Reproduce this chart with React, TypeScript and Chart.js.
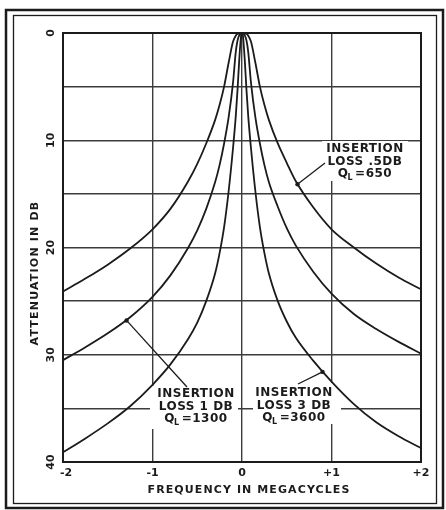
import React, { useEffect, useRef } from 'react';
import { Chart, registerables } from 'chart.js';

Chart.register(...registerables);

// Frequency offset from resonance, in megacycles
const FREQ_MC = [-2, -1.75, -1.5, -1.25, -1, -0.8, -0.6, -0.5, -0.4, -0.3, -0.25, -0.2, -0.15, -0.1, -0.07, -0.05, -0.03, -0.01, 0, 0.01, 0.03, 0.05, 0.07, 0.1, 0.15, 0.2, 0.25, 0.3, 0.4, 0.5, 0.6, 0.8, 1, 1.25, 1.5, 1.75, 2];

// Attenuation in dB, insertion loss .5 dB, QL = 650
const ATTEN_Q650 = [24.1, 22.9, 21.6, 20.1, 18.3, 16.4, 13.8, 12.2, 10.3, 8.1, 6.7, 5.0, 2.8, 0.8, 0.25, 0.08, 0.02, 0, 0, 0, 0.02, 0.08, 0.25, 0.8, 2.8, 5.0, 6.7, 8.1, 10.3, 12.1, 13.8, 16.3, 18.3, 20.0, 21.5, 22.8, 23.9];
// Attenuation in dB, insertion loss 1 dB, QL = 1300
const ATTEN_Q1300 = [30.5, 29.3, 28.0, 26.5, 24.6, 22.6, 20.0, 18.4, 16.4, 13.9, 12.3, 10.3, 7.9, 4.6, 1.8, 0.7, 0.2, 0.02, 0, 0.02, 0.2, 0.7, 1.8, 4.6, 7.9, 10.3, 12.3, 13.9, 16.2, 18.2, 19.8, 22.3, 24.3, 26.2, 27.6, 28.8, 29.9];
// Attenuation in dB, insertion loss 3 dB, QL = 3600
const ATTEN_Q3600 = [39.1, 37.8, 36.4, 34.8, 32.8, 30.9, 28.5, 27.0, 25.0, 22.4, 20.5, 18.1, 14.8, 10.7, 7.8, 5.3, 2.4, 0.25, 0, 0.25, 2.4, 5.3, 7.8, 10.7, 14.8, 18.1, 20.5, 22.4, 25.0, 26.9, 28.4, 30.6, 32.5, 34.6, 36.3, 37.6, 38.7];

const X_TICKS = [-2, -1, 0, 1, 2];
const X_TICK_LABELS = ['-2', '-1', '0', '+1', '+2'];
const Y_TICKS = [0, 10, 20, 30, 40];
const Y_TICK_LABELS = ['0', '10', '20', '30', '40'];
const X_TITLE = 'FREQUENCY IN MEGACYCLES';
const Y_TITLE = 'ATTENUATION IN DB';

const NOTE_LINES_1 = ['INSERTION', 'LOSS .5DB'];
const NOTE_LINES_2 = ['INSERTION', 'LOSS 1 DB'];
const NOTE_LINES_3 = ['INSERTION', 'LOSS 3 DB'];
const NOTE_Q = ['=650', '=1300', '=3600'];

const INK = '#1b1b1b';
const GRID = '#3c3c3c';
const FONT = '"DejaVu Sans", "Liberation Sans", sans-serif';

type Note = {
  lines: string[];
  q: string;
  cx: number;
  y: number;
  box: [number, number, number, number];
  tail: [number, number];
  tip: [number, number]; // data coords (MHz, dB), on the curve
};

const NOTES: Note[] = [
  { lines: NOTE_LINES_1, q: NOTE_Q[0], cx: 365, y: 149, box: [322, 141, 86, 40], tail: [325, 163], tip: [0.62, 14.1] },
  { lines: NOTE_LINES_2, q: NOTE_Q[1], cx: 196, y: 394, box: [150, 386, 88, 43], tail: [187, 387], tip: [-1.29, 26.8] },
  { lines: NOTE_LINES_3, q: NOTE_Q[2], cx: 294, y: 393, box: [253, 383, 88, 41], tail: [298, 384], tip: [0.9, 31.6] },
];

function spaced(ctx: CanvasRenderingContext2D, px: number) {
  (ctx as any).letterSpacing = px + 'px';
}

const paperPlugin = {
  id: 'paper',
  beforeDraw(chart: any) {
    const { ctx, width, height } = chart;
    ctx.save();
    ctx.fillStyle = '#ffffff';
    ctx.fillRect(0, 0, width, height);
    ctx.strokeStyle = INK;
    ctx.lineWidth = 2.5;
    ctx.strokeRect(6, 10, 437, 498);
    ctx.lineWidth = 1.3;
    ctx.strokeRect(13.5, 15.5, 423, 488);
    ctx.restore();
  },
  beforeDatasetsDraw(chart: any) {
    const { ctx, chartArea: a } = chart;
    ctx.save();
    // white label boxes that interrupt the grid
    ctx.fillStyle = '#ffffff';
    NOTES.forEach((n) => ctx.fillRect(n.box[0], n.box[1], n.box[2], n.box[3]));
    // plot frame
    ctx.strokeStyle = INK;
    ctx.lineWidth = 2;
    ctx.strokeRect(a.left, a.top, a.right - a.left, a.bottom - a.top);
    ctx.restore();
  },
  afterDatasetsDraw(chart: any) {
    const { ctx } = chart;
    const xs = chart.scales.x;
    const ys = chart.scales.y;
    ctx.save();
    ctx.fillStyle = INK;
    ctx.strokeStyle = INK;

    // notes
    NOTES.forEach((n) => {
      ctx.font = 'bold 12px ' + FONT;
      spaced(ctx, 0.5);
      ctx.textAlign = 'center';
      ctx.textBaseline = 'middle';
      n.lines.forEach((t, i) => ctx.fillText(t, n.cx, n.y + i * 12.5));
      // Q with subscript L
      const y3 = n.y + 2 * 12.5;
      ctx.textAlign = 'left';
      const wQ = ctx.measureText('Q').width;
      const wR = ctx.measureText(n.q).width;
      ctx.font = 'bold 8px ' + FONT;
      const wL = ctx.measureText('L').width;
      const total = wQ + wL + wR + 1;
      const x0 = n.cx - total / 2;
      ctx.font = 'bold 12px ' + FONT;
      ctx.fillText('Q', x0, y3);
      ctx.fillText(n.q, x0 + wQ + wL + 1, y3);
      ctx.font = 'bold 8px ' + FONT;
      ctx.fillText('L', x0 + wQ - 1, y3 + 4);
      // arrow line + dot on the curve
      const tx = xs.getPixelForValue(n.tip[0]);
      const ty = ys.getPixelForValue(n.tip[1]);
      ctx.lineWidth = 1.3;
      ctx.beginPath();
      ctx.moveTo(n.tail[0], n.tail[1]);
      ctx.lineTo(tx, ty);
      ctx.stroke();
      ctx.beginPath();
      ctx.arc(tx, ty, 2.2, 0, Math.PI * 2);
      ctx.fill();
    });

    // x tick labels
    ctx.font = 'bold 11px ' + FONT;
    spaced(ctx, 0);
    ctx.textAlign = 'center';
    ctx.textBaseline = 'middle';
    X_TICKS.forEach((v, i) => {
      ctx.fillText(X_TICK_LABELS[i], xs.getPixelForValue(v) + (i === 0 ? 3 : 0), 473);
    });
    // x title
    spaced(ctx, 1.1);
    ctx.fillText(X_TITLE, 249, 490);

    // y tick labels (rotated)
    spaced(ctx, 0);
    Y_TICKS.forEach((v, i) => {
      ctx.save();
      ctx.translate(51, ys.getPixelForValue(v));
      ctx.rotate(-Math.PI / 2);
      ctx.fillText(Y_TICK_LABELS[i], 0, 0);
      ctx.restore();
    });
    // y title
    ctx.save();
    ctx.translate(35, 273);
    ctx.rotate(-Math.PI / 2);
    spaced(ctx, 1.2);
    ctx.fillText(Y_TITLE, 0, 0);
    ctx.restore();

    ctx.restore();
  },
};

export default function App() {
  const ref = useRef<HTMLCanvasElement | null>(null);

  useEffect(() => {
    document.body.style.margin = '0';
    const canvas = ref.current;
    if (!canvas) return;
    const mk = (vals: number[]) => FREQ_MC.map((f, i) => ({ x: f, y: vals[i] }));
    const line = {
      borderColor: INK,
      borderWidth: 1.8,
      pointRadius: 0,
      fill: false,
      cubicInterpolationMode: 'monotone' as const,
    };
    const chart = new Chart(canvas, {
      type: 'line',
      data: {
        datasets: [
          { label: 'QL=650', data: mk(ATTEN_Q650), ...line },
          { label: 'QL=1300', data: mk(ATTEN_Q1300), ...line },
          { label: 'QL=3600', data: mk(ATTEN_Q3600), ...line },
        ],
      },
      options: {
        animation: false,
        responsive: false,
        maintainAspectRatio: false,
        layout: { padding: { left: 0, top: 33, right: 25, bottom: 0 } },
        plugins: { legend: { display: false }, tooltip: { enabled: false } },
        scales: {
          x: {
            type: 'linear',
            min: -2,
            max: 2,
            ticks: { stepSize: 1, display: false },
            grid: { color: GRID, lineWidth: 1.4, drawTicks: false },
            border: { display: false },
            afterFit: (s: any) => { s.height = 48; },
          },
          y: {
            type: 'linear',
            min: 0,
            max: 40,
            reverse: true,
            ticks: { stepSize: 5, display: false },
            grid: { color: GRID, lineWidth: 1.4, drawTicks: false },
            border: { display: false },
            afterFit: (s: any) => { s.width = 63; },
          },
        },
      },
      plugins: [paperPlugin],
    });
    return () => chart.destroy();
  }, []);

  return (
    <canvas
      ref={ref}
      width={446}
      height={510}
      style={{ display: 'block', position: 'absolute', left: 0, top: 0 }}
    />
  );
}
